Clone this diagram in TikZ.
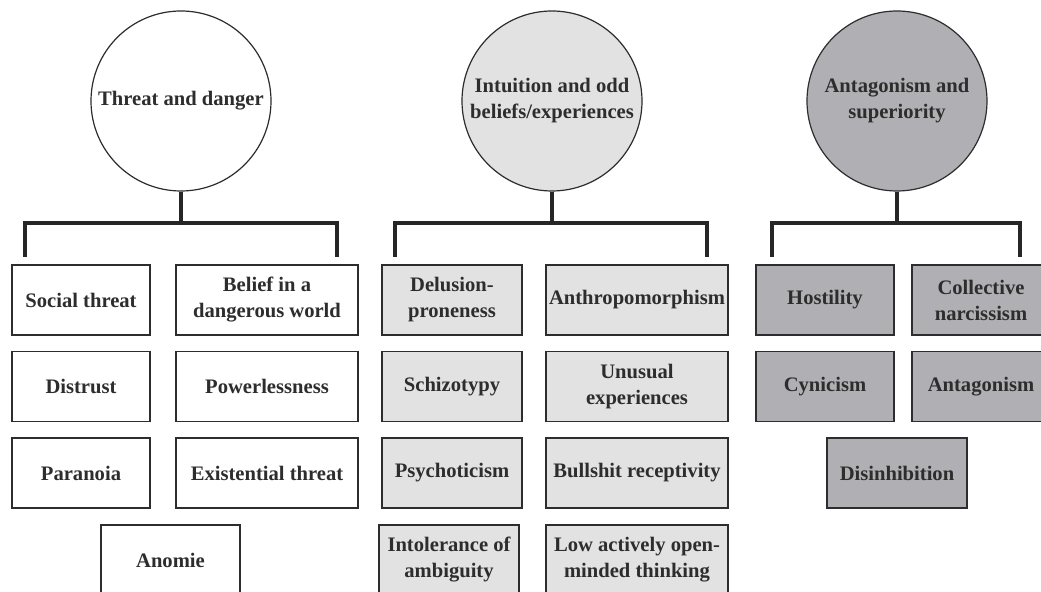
\documentclass[tikz,border=0pt]{standalone}
\usepackage{fontspec}
\setmainfont{Liberation Serif}
\usepackage{tikz}
\usetikzlibrary{positioning}
\definecolor{ink}{RGB}{45, 45, 45}
\definecolor{light}{RGB}{226, 226, 226}
\definecolor{mid}{RGB}{176, 176, 180}

\begin{document}
\begin{tikzpicture}[x=0.5pt, y=-0.5pt,
    label font/.style={text=ink, align=center, font=\fontsize{10.3}{13}\selectfont\bfseries},
    factor/.style={circle, draw=ink, line width=0.6pt, minimum size=90pt, inner sep=0pt, label font},
    facet/.style={rectangle, draw=ink, line width=0.9pt, minimum height=35pt, inner sep=1pt, label font},
    bar/.style={draw=black!85, line width=2.1pt}]
  \useasboundingbox[fill=white] (0, 0) rectangle (1041, 592);

  % factors
  \node[factor, fill=white] (threat) at (181, 101) {Threat and danger};
  \node[factor, fill=light] (intuition) at (552, 101) {Intuition and odd\\beliefs/experiences};
  \node[factor, fill=mid] (antagonism) at (897, 101) {Antagonism and\\superiority};

  % threat and danger
  \node[facet, minimum width=69pt] (social) at (81, 300) {Social threat};
  \node[facet, minimum width=91pt] (belief) at (267, 300) {Belief in a\\dangerous world};
  \node[facet, minimum width=69pt] (distrust) at (81, 386.5) {Distrust};
  \node[facet, minimum width=91pt] (powerless) at (267, 386.5) {Powerlessness};
  \node[facet, minimum width=69pt] (paranoia) at (81, 473) {Paranoia};
  \node[facet, minimum width=91pt] (existential) at (267, 473) {Existential threat};
  \node[facet, minimum width=69.5pt] (anomie) at (170.5, 560) {Anomie};

  % intuition and odd beliefs
  \node[facet, fill=light, minimum width=70pt] (delusion) at (452, 300) {Delusion-\\proneness};
  \node[facet, fill=light, minimum width=91pt] (anthro) at (637, 300) {Anthropomorphism};
  \node[facet, fill=light, minimum width=70pt] (schizo) at (452, 386.5) {Schizotypy};
  \node[facet, fill=light, minimum width=91pt] (unusual) at (637, 386.5) {Unusual\\experiences};
  \node[facet, fill=light, minimum width=70pt] (psycho) at (452, 473) {Psychoticism};
  \node[facet, fill=light, minimum width=91pt] (bullshit) at (637, 473) {Bullshit receptivity};
  \node[facet, fill=light, minimum width=70pt] (ambiguity) at (449, 560) {Intolerance of\\ambiguity};
  \node[facet, fill=light, minimum width=91pt] (aot) at (637, 560) {Low actively open-\\minded thinking};

  % antagonism and superiority
  \node[facet, fill=mid, minimum width=69pt] (hostility) at (825, 300) {Hostility};
  \node[facet, fill=mid, minimum width=69pt] (narcissism) at (981, 300) {Collective\\narcissism};
  \node[facet, fill=mid, minimum width=69pt] (cynicism) at (825, 386.5) {Cynicism};
  \node[facet, fill=mid, minimum width=69pt] (antag) at (981, 386.5) {Antagonism};
  \node[facet, fill=mid, minimum width=70pt] (disinhib) at (897, 473) {Disinhibition};

  % brackets
  \coordinate (tj) at (181, 223);
  \coordinate (tl) at (25, 257);
  \coordinate (tr) at (337, 257);
  \coordinate (ij) at (552, 223);
  \coordinate (il) at (395, 257);
  \coordinate (ir) at (707, 257);
  \coordinate (aj) at (897, 223);
  \coordinate (al) at (772, 257);
  \coordinate (ar) at (1020, 257);

  \draw[bar] (threat) -- (tj);
  \draw[bar] (tl) |- (tj) -| (tr);
  \draw[bar] (intuition) -- (ij);
  \draw[bar] (il) |- (ij) -| (ir);
  \draw[bar] (antagonism) -- (aj);
  \draw[bar] (al) |- (aj) -| (ar);
\end{tikzpicture}
\end{document}
